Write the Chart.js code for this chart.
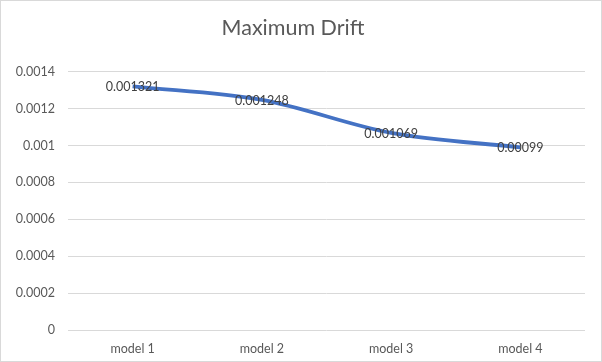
<!DOCTYPE html>
<html>
<head>
<meta charset="utf-8">
<script src="https://cdn.jsdelivr.net/npm/chart.js@4"></script>
<style>
html,body{margin:0;padding:0;background:#fff;}
#wrap{position:relative;width:600px;height:360px;border:1px solid #d9d9d9;}
</style>
</head>
<body>
<div id="wrap"><canvas id="c" width="600" height="360"></canvas></div>
<script>
const categories = ["model 1", "model 2", "model 3", "model 4"];
const driftValues = [0.001321, 0.001248, 0.001069, 0.00099];
const dataLabels = ["0.001321", "0.001248", "0.001069", "0.00099"];
const chartTitle = "Maximum Drift";

const FONT = "Lato, 'Open Sans', sans-serif";

const labelPlugin = {
  id: 'pointLabels',
  afterDatasetsDraw(chart) {
    const ctx = chart.ctx;
    const meta = chart.getDatasetMeta(0);
    ctx.save();
    ctx.font = "12.5px " + FONT;
    ctx.fillStyle = "#404040";
    ctx.textAlign = "center";
    ctx.textBaseline = "middle";
    meta.data.forEach((pt, i) => {
      ctx.fillText(dataLabels[i], pt.x, pt.y + 1);
    });
    ctx.restore();
  }
};

new Chart(document.getElementById('c'), {
  type: 'line',
  data: {
    labels: categories,
    datasets: [{
      data: driftValues,
      borderColor: '#4472C4',
      borderWidth: 3.8,
      pointRadius: 0,
      pointHoverRadius: 0,
      tension: 0.35,
      cubicInterpolationMode: 'monotone',
      fill: false
    }]
  },
  options: {
    responsive: false,
    animation: false,
    events: [],
    layout: { padding: { left: 0, right: 16, top: 0, bottom: 0 } },
    plugins: {
      legend: { display: false },
      tooltip: { enabled: false },
      title: {
        display: true,
        text: chartTitle,
        color: '#595959',
        font: { family: FONT, size: 21.5, weight: 'normal' },
        padding: { top: 14, bottom: 31 }
      }
    },
    scales: {
      x: {
        offset: true,
        grid: { display: false, drawTicks: false },
        border: { display: false },
        ticks: { color: '#595959', font: { family: FONT, size: 12.5 }, padding: 11, maxRotation: 0 },
        afterFit(s) { s.height = 31; }
      },
      y: {
        min: 0,
        max: 0.0014,
        grid: { color: '#d9d9d9', drawTicks: false, lineWidth: 1 },
        border: { display: false },
        ticks: {
          stepSize: 0.0002,
          color: '#595959',
          font: { family: FONT, size: 12.5 },
          padding: 13,
          callback: v => String(parseFloat(v.toFixed(4)))
        },
        afterFit(s) { s.width = 67; }
      }
    }
  },
  plugins: [labelPlugin]
});
</script>
</body>
</html>
